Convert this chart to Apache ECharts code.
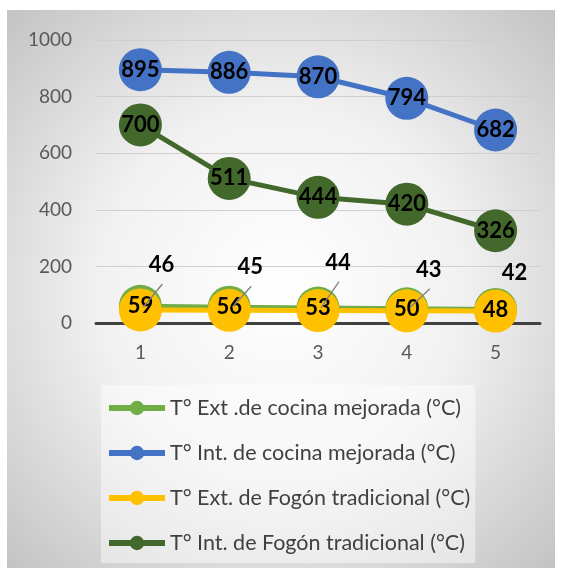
<!DOCTYPE html>
<html>
<head>
<meta charset="utf-8">
<script src="https://cdn.jsdelivr.net/npm/echarts@6/dist/echarts.min.js"></script>
<style>
  html, body { margin: 0; padding: 0; background: #ffffff; }
  #chart { width: 565px; height: 571px; }
</style>
</head>
<body>
<div id="chart"></div>
<script>
// Temperatures (°C) measured at five points for the improved stove and the traditional hearth
const categories = ['1', '2', '3', '4', '5'];
const extCocina = [59, 56, 53, 50, 48];
const intCocina = [895, 886, 870, 794, 682];
const extFogon = [46, 45, 44, 43, 42];
const intFogon = [700, 511, 444, 420, 326];
const seriesNames = [
  'T° Ext .de cocina mejorada (°C)',
  'T° Int. de cocina mejorada (°C)',
  'T° Ext. de Fogón tradicional (°C)',
  'T° Int. de Fogón tradicional (°C)'
];
const yTicks = { min: 0, max: 1000, interval: 200 };

const FONT = 'Lato, "Open Sans", sans-serif';
const chart = echarts.init(document.getElementById('chart'), null, { renderer: 'canvas' });

function valueLabel(offset) {
  return {
    show: true,
    position: 'inside',
    offset: offset || [0, 0],
    color: '#000000',
    fontFamily: FONT,
    fontWeight: 'bold',
    fontSize: 22
  };
}

function lineSeries(name, data, color) {
  return {
    name: name,
    type: 'line',
    data: data,
    symbol: 'circle',
    symbolSize: 43,
    lineStyle: { color: color, width: 5 },
    itemStyle: { color: color },
    label: valueLabel(),
    emphasis: { disabled: true },
    animation: false
  };
}

// Pixel shift of the outside value labels of the hearth exterior series
const extLabelShift = [[21, -45], [21, -43], [20, -48], [22, -41], [19, -38]];
// Which of those labels get a leader line back to their point
const extLeader = [true, true, true, true, false];

const option = {
  animation: false,
  graphic: [{
    type: 'rect',
    z: -10,
    silent: true,
    shape: { x: 7, y: 10, width: 548, height: 558 },
    style: {
      fill: new echarts.graphic.RadialGradient(0.5, 0.5, 0.74, [
        { offset: 0, color: '#ffffff' },
        { offset: 0.45, color: '#f1f1f1' },
        { offset: 1, color: '#c0c0c0' }
      ])
    }
  }],
  grid: { left: 96, right: 25, top: 40, bottom: 248, containLabel: false },
  xAxis: {
    type: 'category',
    data: categories,
    boundaryGap: true,
    axisLine: { show: true, lineStyle: { color: '#404040', width: 3 } },
    axisTick: { show: false },
    axisLabel: { color: '#595959', fontFamily: FONT, fontSize: 19, margin: 20 },
    splitLine: { show: false }
  },
  yAxis: {
    type: 'value',
    min: yTicks.min,
    max: yTicks.max,
    interval: yTicks.interval,
    axisLine: { show: false },
    axisTick: { show: false },
    axisLabel: {
      color: '#595959', fontFamily: FONT, fontSize: 19, margin: 24,
      formatter: function (v) { return String(v); }
    },
    splitLine: { lineStyle: { color: '#cfcfcf', width: 1 } }
  },
  legend: {
    orient: 'vertical',
    left: 101,
    top: 385,
    height: 180,
    padding: [12, 5, 9, 5],
    itemGap: 23,
    itemWidth: 56,
    itemHeight: 18,
    backgroundColor: 'rgba(255,255,255,0.45)',
    lineStyle: { width: 6 },
    textStyle: { color: '#404040', fontFamily: FONT, fontSize: 21.5 },
    data: seriesNames
  },
  series: [
    lineSeries(seriesNames[0], extCocina, '#70ad47'),
    lineSeries(seriesNames[1], intCocina, '#4472c4'),
    lineSeries(seriesNames[2], extFogon.map((v, i) => ({
      value: v,
      label: valueLabel(extLabelShift[i])
    })), '#ffc000'),
    lineSeries(seriesNames[3], intFogon, '#43682b'),
    {
      // leader lines from the shifted labels back to their points
      type: 'custom',
      name: 'leaders',
      z: 5,
      silent: true,
      animation: false,
      data: extFogon.map((v, i) => [i, v]),
      renderItem: function (params, api) {
        const i = api.value(0);
        if (!extLeader[i]) return null;
        const p = api.coord([i, api.value(1)]);
        const s = extLabelShift[i];
        return {
          type: 'line',
          shape: { x1: p[0] + 3, y1: p[1] - 3, x2: p[0] + s[0] + 1, y2: p[1] + s[1] + 19 },
          style: { stroke: '#7f7f7f', lineWidth: 1.3 }
        };
      }
    }
  ]
};

chart.setOption(option);
</script>
</body>
</html>
